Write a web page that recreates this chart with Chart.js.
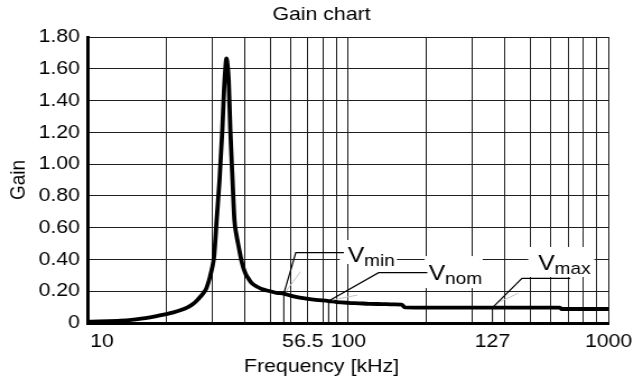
<!DOCTYPE html>
<html>
<head>
<meta charset="utf-8">
<script src="https://cdn.jsdelivr.net/npm/chart.js@4"></script>
<style>
  html, body { margin: 0; padding: 0; background: #fff; overflow: hidden; }
  /* the chart is laid out on a narrower canvas and widened to the window */
  #wrap { width: 574px; height: 382px; transform: scaleX(1.1202); transform-origin: 0 0; }
  canvas { display: block; }
</style>
</head>
<body>
<div id="wrap"><canvas id="gain" width="574" height="382"></canvas></div>
<script>
// Frequency response samples (kHz) and measured gain
const freqKHz = [10, 11, 12, 13, 14, 15, 16, 17.3, 18.5, 20, 21.3, 22.6, 24, 25.3, 26.2, 27, 27.7, 28.5,
  29.4, 30, 30.5, 31.2, 32, 32.8, 33.3, 33.7, 34.0, 34.3, 34.7, 35.2, 35.9, 36.5, 37.2, 37.9, 39, 40.2,
  41.5, 42.6, 45, 47.2, 50, 53, 56.5, 60, 65, 70, 75, 84, 90, 100, 110, 120, 135, 150, 160, 165, 180,
  200, 250, 300, 358, 400, 500, 600, 650, 660, 750, 850, 1000];
const gain = [0.008, 0.010, 0.012, 0.014, 0.016, 0.021, 0.027, 0.036, 0.045, 0.056, 0.067, 0.080, 0.097,
  0.120, 0.142, 0.165, 0.187, 0.22, 0.29, 0.35, 0.42, 0.65, 0.90, 1.215, 1.467, 1.60, 1.666, 1.63, 1.53,
  1.215, 0.90, 0.648, 0.55, 0.48, 0.38, 0.313, 0.275, 0.25, 0.225, 0.21, 0.20, 0.19, 0.185, 0.172, 0.160,
  0.152, 0.146, 0.138, 0.132, 0.127, 0.124, 0.121, 0.119, 0.117, 0.116, 0.098, 0.097, 0.097, 0.097,
  0.097, 0.097, 0.097, 0.097, 0.097, 0.097, 0.088, 0.088, 0.088, 0.088];

// Supply voltage operating points
const markerNames = ['min', 'nom', 'max'];
const markerFreqs = [56.5, 84, 358];
const markerGains = [0.185, 0.138, 0.097];

// Axis ticks
const yTicks = [0, 0.2, 0.4, 0.6, 0.8, 1.0, 1.2, 1.4, 1.6, 1.8];
const xTickValues = [10, 56.5, 100, 358, 1000];
const xTickLabels = ['10', '56.5', '100', '127', '1000'];

const FONT = "'Liberation Sans', Arial, Helvetica, sans-serif";
const FS = 19;
const INK = '#000';
const GRID = '#1e1e1e';

// Log grid lines: 1..9 in every decade from 10 to 1000
const gridValues = [];
for (let d = 10; d < 1000; d *= 10) for (let m = 1; m < 10; m++) gridValues.push(m * d);
gridValues.push(1000);
const isGrid = v => gridValues.some(g => Math.abs(g - v) < 1e-6);

// Sideways nudge of a few x labels (canvas px)
const labelShift = { '10': 12.5, '56.5': 17 };

// Leader-line callouts for the voltage points, offsets in canvas px from the curve point
const callouts = [
  { elbow: [10.7, -40.9], end: 53.6, text: [57.1, -31.6], box: [50, -53.6, 51, 24], haze: [1.8, -2, 14.9, -22] },
  { elbow: [44.6, -28.4], end: 88.1, text: [89.3, -21.1], box: [85.7, -45, 51.8, 32], haze: [3.3, -1, 25.6, -6] },
  { elbow: [26.3, -29.3], end: 69.4, text: [40.8, -37.6], box: [31.9, -60.6, 59, 30], haze: [6.9, -5.9, 22.9, -14.3] }
];

const tickNudge = {
  id: 'tickNudge',
  beforeDraw(chart) {
    chart.scales.x.getLabelItems().forEach(it => {
      const s = labelShift[it.label];
      if (s && !it._moved) { it.options.translation[0] += s; it._moved = true; }
    });
  }
};

const calloutPlugin = {
  id: 'callouts',
  afterDatasetsDraw(chart) {
    const { ctx, scales: { x, y } } = chart;
    const anchors = markerFreqs.map((f, i) => [x.getPixelForValue(f), y.getPixelForValue(markerGains[i])]);
    ctx.save();
    // white label boxes over the grid
    ctx.fillStyle = '#fff';
    callouts.forEach((c, i) => {
      const [ax, ay] = anchors[i];
      ctx.fillRect(ax + c.box[0], ay + c.box[1], c.box[2], c.box[3]);
    });
    // faint grey strokes beside the leaders
    ctx.strokeStyle = '#c4c4c4';
    ctx.lineWidth = 1;
    callouts.forEach((c, i) => {
      const [ax, ay] = anchors[i];
      ctx.beginPath();
      ctx.moveTo(ax + c.haze[0], ay + c.haze[1]);
      ctx.lineTo(ax + c.haze[2], ay + c.haze[3]);
      ctx.stroke();
    });
    // leader lines
    ctx.strokeStyle = INK;
    ctx.lineWidth = 1.2;
    callouts.forEach((c, i) => {
      const [ax, ay] = anchors[i];
      ctx.beginPath();
      ctx.moveTo(ax, ay);
      ctx.lineTo(ax + c.elbow[0], ay + c.elbow[1]);
      ctx.lineTo(ax + c.end, ay + c.elbow[1]);
      ctx.stroke();
    });
    // V with subscript
    ctx.fillStyle = INK;
    ctx.textBaseline = 'alphabetic';
    ctx.textAlign = 'left';
    callouts.forEach((c, i) => {
      const [ax, ay] = anchors[i];
      const tx = ax + c.text[0], ty = ay + c.text[1];
      ctx.font = `22px ${FONT}`;
      ctx.fillText('V', tx, ty);
      const w = ctx.measureText('V').width;
      ctx.font = `17px ${FONT}`;
      ctx.fillText(markerNames[i], tx + w, ty + 4);
    });
    ctx.restore();
  }
};

const datasets = [{
  data: freqKHz.map((f, i) => ({ x: f, y: gain[i] })),
  borderColor: INK,
  borderWidth: 3.8,
  pointRadius: 0,
  cubicInterpolationMode: 'monotone',
  borderJoinStyle: 'round',
  borderCapStyle: 'round',
  order: 0
}];
markerFreqs.forEach((f, i) => datasets.push({
  data: [{ x: f, y: 0 }, { x: f, y: markerGains[i] }],
  borderColor: INK,
  borderWidth: 1,
  pointRadius: 0,
  order: 1
}));

new Chart(document.getElementById('gain'), {
  type: 'line',
  data: { datasets },
  options: {
    responsive: false,
    animation: false,
    devicePixelRatio: 1,
    layout: { padding: 0 },
    plugins: {
      legend: { display: false },
      tooltip: { enabled: false },
      title: {
        display: true, text: 'Gain chart', color: INK,
        font: { family: FONT, size: FS, weight: 'normal' },
        padding: { top: 3.6, bottom: 10.6 }
      },
      subtitle: {
        display: true, position: 'bottom', text: 'Frequency [kHz]', color: INK,
        font: { family: FONT, size: FS, weight: 'normal' },
        padding: { top: 2.3, bottom: 3.6 }
      }
    },
    scales: {
      x: {
        type: 'logarithmic', min: 10, max: 1000,
        afterBuildTicks(scale) {
          const vals = gridValues.concat(xTickValues.filter(v => !isGrid(v))).sort((a, b) => a - b);
          scale.ticks = vals.map(v => ({ value: v }));
        },
        afterFit(scale) { scale.paddingRight = 30.7; scale.height = 30.3; },
        grid: {
          color: ctx => (ctx.tick && isGrid(ctx.tick.value)) ? GRID : 'rgba(0,0,0,0)',
          lineWidth: 1, drawTicks: false
        },
        border: { color: INK, width: 3 },
        ticks: {
          autoSkip: false, maxRotation: 0, minRotation: 0, padding: 7.5, color: INK,
          font: { family: FONT, size: FS },
          callback(value) {
            const k = xTickValues.findIndex(v => Math.abs(v - value) < 1e-6);
            return k >= 0 ? xTickLabels[k] : '';
          }
        }
      },
      y: {
        min: 0, max: 1.8,
        afterBuildTicks(scale) { scale.ticks = yTicks.map(v => ({ value: v })); },
        afterFit(scale) { scale.width = 78.6; },
        grid: { color: GRID, lineWidth: 1, drawTicks: false },
        border: { color: INK, width: 3 },
        ticks: {
          padding: 7.2, color: INK,
          font: { family: FONT, size: FS },
          callback: v => (v === 0 ? '0' : v.toFixed(2))
        },
        title: {
          display: true, text: 'Gain', color: INK,
          font: { family: FONT, size: FS },
          padding: { top: 4.9, bottom: 6.7 }
        }
      }
    }
  },
  plugins: [tickNudge, calloutPlugin]
});
</script>
</body>
</html>
